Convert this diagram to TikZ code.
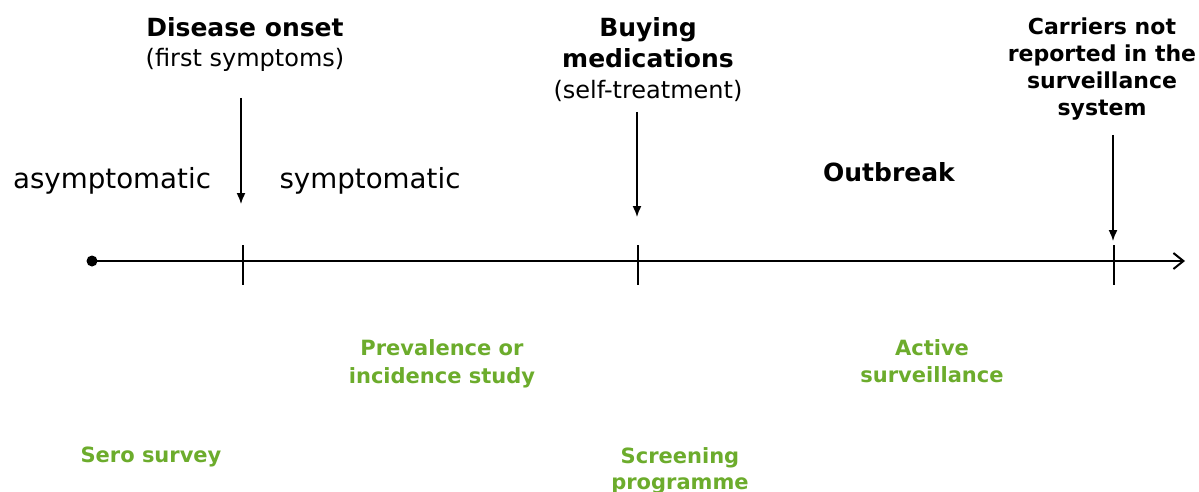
\documentclass[tikz,border=0pt]{standalone}
\usepackage{fontspec}
\setmainfont{DejaVu Sans}
\usetikzlibrary{arrows.meta}
\definecolor{studygreen}{RGB}{108,172,44}
\begin{document}
\begin{tikzpicture}[x=1pt,y=-1pt,
  lbl/.style={inner sep=0pt,anchor=base,text=black},
  big/.style={lbl,font=\fontsize{27.7}{32}\selectfont},
  head/.style={lbl,font=\bfseries\fontsize{25}{30}\selectfont},
  sub/.style={lbl,font=\fontsize{24}{28}\selectfont},
  small/.style={lbl,font=\bfseries\fontsize{22}{27}\selectfont},
  study/.style={lbl,font=\bfseries\fontsize{21}{26}\selectfont,text=studygreen},
  pointer/.style={line width=1.5pt,-{Latex[length=11pt,width=9pt]}},
  tick/.style={line width=2.5pt},
  axis/.style={line width=2pt,-{Straight Barb[length=10pt,width=16pt,line width=2pt]}}]
\useasboundingbox (0,0) rectangle (1199,492);

% event labels above the time line
\node[head] (onset) at (245,37) {Disease onset};
\node[sub] (onsetsub) at (245,67) {(first symptoms)};
\node[head] (buy1) at (648,37) {Buying};
\node[head] (buy2) at (648,68) {medications};
\node[sub] (buysub) at (648,99) {(self-treatment)};
\node[small] (car1) at (1102,35) {Carriers not};
\node[small] (car2) at (1102,62) {reported in the};
\node[small] (car3) at (1102,89) {surveillance};
\node[small] (car4) at (1102,116) {system};

% phases
\node[big] (asym) at (112,188) {asymptomatic};
\node[big] (sym) at (370,188) {symptomatic};
\node[head] (outbreak) at (889,181) {Outbreak};

% time line
\node[circle,fill=black,inner sep=0pt,minimum size=11pt] (start) at (92,261) {};
\coordinate (end) at (1185,261);
\draw[axis] (start.center) -- (end);
\foreach \n/\x in {t1/243,t2/638,t3/1114}{
  \coordinate (\n top) at (\x,245);
  \coordinate (\n bot) at (\x,285);
  \draw[tick] (\n top) -- (\n bot);
}

% pointers to the events
\coordinate (a1s) at (241,98);  \coordinate (a1e) at (241,204);
\coordinate (a2s) at (637,112); \coordinate (a2e) at (637,217);
\coordinate (a3s) at (1113,135);\coordinate (a3e) at (1113,241);
\draw[pointer] (a1s) -- (a1e);
\draw[pointer] (a2s) -- (a2e);
\draw[pointer] (a3s) -- (a3e);

% study designs
\node[study] (prev1) at (442,355) {Prevalence or};
\node[study] (prev2) at (442,383) {incidence study};
\node[study] (act1) at (932,355) {Active};
\node[study] (act2) at (932,382) {surveillance};
\node[study] (sero) at (151,462) {Sero survey};
\node[study] (scr1) at (680,463) {Screening};
\node[study] (scr2) at (680,489) {programme};
\end{tikzpicture}
\end{document}
